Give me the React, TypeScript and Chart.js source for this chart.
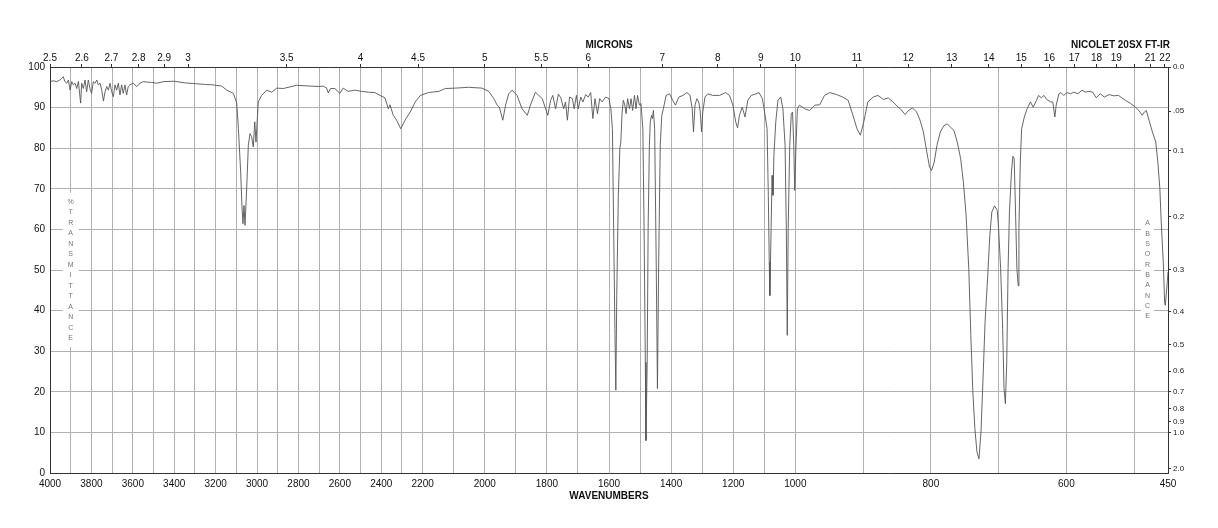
import React, { useEffect, useRef } from 'react';
import { Chart, registerables, LinearScale } from 'chart.js';

Chart.register(...registerables);

// Wavenumber axis is drawn in three equal-width linear segments
const AXIS_BREAKS = [4000, 2200, 1000, 450];

const WAVENUMBERS = [
  4000, 3984, 3968, 3952, 3936, 3928, 3919, 3911, 3903, 3895, 3887, 3879, 3871, 3863, 3852, 3847,
  3839, 3831, 3823, 3815, 3807, 3799, 3791, 3783, 3774, 3767, 3758, 3750, 3742, 3734, 3726, 3718,
  3710, 3702, 3694, 3686, 3678, 3670, 3662, 3654, 3646, 3638, 3630, 3622, 3614, 3598, 3581, 3565,
  3549, 3533, 3510, 3485, 3450, 3400, 3350, 3298, 3250, 3212, 3171, 3146, 3114, 3098, 3090, 3079,
  3073, 3068, 3063, 3058, 3050, 3042, 3034, 3026, 3018, 3011, 3005, 2994, 2978, 2953, 2929, 2905,
  2873, 2841, 2809, 2744, 2700, 2680, 2664, 2656, 2645, 2624, 2600, 2584, 2560, 2527, 2495, 2463,
  2431, 2406, 2382, 2366, 2358, 2342, 2326, 2306, 2285, 2260, 2236, 2211, 2181, 2148, 2127, 2095,
  2052, 2009, 1987, 1971, 1960, 1953, 1942, 1933, 1923, 1912, 1896, 1880, 1863, 1853, 1845, 1837,
  1826, 1815, 1804, 1797, 1788, 1781, 1772, 1763, 1755, 1746, 1740, 1734, 1727, 1718, 1712, 1705,
  1699, 1691, 1684, 1675, 1667, 1659, 1652, 1645, 1637, 1630, 1622, 1611, 1600, 1594, 1589, 1585,
  1581, 1578, 1575, 1570, 1565, 1562, 1558, 1554, 1549, 1545, 1540, 1534, 1529, 1524, 1518, 1513,
  1508, 1502, 1497, 1491, 1487, 1483, 1481, 1477, 1474, 1470, 1467, 1463, 1460, 1457, 1453, 1448,
  1444, 1440, 1435, 1430, 1425, 1416, 1405, 1395, 1386, 1375, 1362, 1349, 1339, 1332, 1328, 1323,
  1317, 1311, 1306, 1302, 1298, 1291, 1282, 1266, 1244, 1225, 1212, 1201, 1192, 1186, 1180, 1171,
  1162, 1153, 1142, 1126, 1117, 1106, 1099, 1091, 1087, 1084, 1082, 1078, 1075, 1072, 1069, 1063,
  1056, 1047, 1040, 1033, 1029, 1026, 1023, 1018, 1013, 1009, 1005, 1002, 999, 997, 994, 986,
  979, 971, 964, 957, 949, 939, 930, 922, 915, 909, 904, 899, 893, 885, 878, 870,
  863, 856, 848, 845, 838, 833, 827, 821, 816, 811, 806, 802, 799, 795, 791, 786,
  781, 776, 771, 766, 761, 756, 752, 748, 744, 741, 738, 735, 732, 729, 726, 723,
  720, 716, 713, 710, 706, 702, 700, 697, 694, 692, 690, 688, 686, 684, 681, 679,
  677, 675, 673, 671, 670, 668, 666, 662, 658, 653, 649, 644, 641, 637, 633, 629,
  623, 620, 617, 615, 611, 608, 604, 599, 594, 589, 583, 577, 572, 567, 561, 556,
  550, 544, 537, 530, 523, 518, 513, 505, 498, 493, 488, 485, 482, 478, 473, 468,
  465, 462, 460, 457, 455, 454, 451, 450,
];

const TRANSMITTANCE = [
  96.4, 96.6, 96.4, 96.8, 97.6, 96.4, 96.0, 96.8, 94.3, 96.4, 95.6, 96.0, 94.7, 96.4, 91.1, 96.0,
  94.7, 96.8, 93.9, 96.8, 94.7, 93.5, 96.4, 96.0, 96.8, 95.6, 96.0, 94.3, 91.6, 93.9, 95.2, 94.3,
  96.0, 93.9, 92.7, 95.6, 94.3, 96.0, 93.1, 95.6, 93.5, 95.6, 93.1, 95.2, 95.6, 96.0, 95.2, 96.0,
  96.4, 96.3, 96.2, 96.0, 96.4, 96.5, 96.1, 95.9, 95.7, 95.6, 95.3, 94.3, 93.5, 91.1, 84.8, 74.1,
  65.9, 61.4, 65.9, 61.0, 70.0, 80.7, 83.6, 82.8, 80.3, 86.5, 81.5, 91.4, 93.0, 94.3, 93.8, 94.8,
  94.7, 95.1, 95.5, 95.3, 95.2, 95.3, 94.8, 93.6, 94.7, 94.7, 93.5, 94.8, 94.0, 94.3, 94.0, 93.8,
  93.7, 93.0, 92.4, 89.7, 90.7, 88.1, 86.9, 84.8, 86.9, 88.9, 91.4, 93.0, 93.7, 94.0, 94.7, 94.8,
  95.0, 94.8, 94.0, 92.2, 90.6, 90.1, 86.9, 90.6, 93.4, 94.3, 93.0, 89.7, 88.1, 90.6, 92.2, 93.8,
  93.0, 92.2, 89.7, 88.1, 91.8, 93.0, 89.7, 93.3, 92.4, 89.7, 91.4, 86.9, 92.6, 92.2, 89.7, 93.0,
  89.7, 92.6, 91.4, 93.2, 92.6, 93.7, 87.3, 92.2, 88.5, 92.2, 91.4, 92.6, 92.2, 89.7, 84.8, 60.2,
  35.6, 20.4, 43.7, 68.4, 80.0, 81.5, 88.5, 91.8, 90.6, 88.5, 92.2, 89.7, 92.2, 89.3, 93.0, 89.7,
  93.0, 90.6, 91.0, 84.8, 60.2, 27.3, 8.0, 27.3, 60.2, 80.7, 86.5, 88.1, 87.3, 89.3, 84.8, 52.0,
  20.8, 52.0, 80.7, 88.1, 89.7, 93.0, 93.4, 91.8, 90.6, 92.6, 93.0, 93.7, 93.0, 89.7, 84.0, 90.6,
  92.2, 91.4, 88.9, 84.0, 88.9, 92.6, 93.4, 93.0, 93.0, 93.7, 93.0, 90.6, 86.5, 85.0, 88.1, 90.1,
  87.7, 91.8, 93.0, 93.4, 93.7, 92.2, 88.9, 84.8, 68.4, 52.0, 43.7, 60.2, 73.3, 68.4, 78.2, 86.5,
  91.8, 92.6, 89.7, 80.7, 60.2, 33.9, 60.2, 80.7, 88.5, 88.9, 80.7, 69.6, 80.7, 89.7, 90.6, 89.7,
  89.3, 90.6, 90.7, 93.0, 93.7, 93.2, 92.6, 91.8, 88.1, 84.8, 83.2, 86.5, 91.4, 92.6, 93.0, 92.0,
  92.4, 91.4, 90.1, 89.7, 88.3, 89.3, 89.9, 88.9, 86.9, 84.0, 79.1, 75.4, 74.5, 76.6, 80.7, 84.0,
  85.5, 86.0, 85.2, 84.4, 81.5, 77.4, 71.7, 63.5, 50.3, 33.9, 20.0, 10.9, 5.2, 3.5, 10.1, 23.2,
  37.1, 48.7, 58.5, 64.3, 65.8, 64.7, 60.2, 50.3, 35.6, 20.8, 17.1, 27.3, 50.3, 64.3, 74.1, 78.0,
  77.4, 64.3, 50.3, 46.1, 60.2, 76.6, 84.8, 87.7, 89.7, 91.4, 90.1, 91.8, 93.0, 92.4, 93.0, 92.0,
  91.4, 91.4, 87.7, 90.6, 93.4, 93.7, 93.0, 93.7, 93.4, 93.8, 93.4, 94.3, 93.8, 94.0, 93.8, 92.4,
  93.4, 92.6, 93.2, 92.9, 93.0, 92.4, 91.8, 91.0, 90.1, 89.3, 88.1, 88.9, 89.3, 86.9, 84.0, 81.5,
  76.6, 70.0, 61.8, 52.0, 42.1, 41.3, 47.1, 49.5,
];

// Bottom axis: grid every 100 cm-1, labels on a subset
const WAVE_GRID = [
  4000, 3900, 3800, 3700, 3600, 3500, 3400, 3300, 3200, 3100, 3000, 2900, 2800, 2700, 2600, 2500,
  2400, 2300, 2200, 2100, 2000, 1900, 1800, 1700, 1600, 1500, 1400, 1300, 1200, 1100, 1000, 900,
  800, 700, 600, 500, 450,
];
const WAVE_LABELED = [
  4000, 3800, 3600, 3400, 3200, 3000, 2800, 2600, 2400, 2200, 2000, 1800, 1600, 1400, 1200, 1000,
  800, 600, 450,
];

// Top axis: microns
const MICRONS = [2.5, 2.6, 2.7, 2.8, 2.9, 3, 3.5, 4, 4.5, 5, 5.5, 6, 7, 8, 9, 10, 11, 12, 13, 14, 15, 16, 17, 18, 19, 20, 21, 22];
const MICRONS_UNLABELED = [20];

// Left axis: %T
const TRANS_TICKS = [0, 10, 20, 30, 40, 50, 60, 70, 80, 90, 100];

// Right axis: absorbance
const ABS_TICKS = [0, 0.05, 0.1, 0.2, 0.3, 0.4, 0.5, 0.6, 0.7, 0.8, 0.9, 1.0, 2.0];
const ABS_LABELS = ['0.0', '.05', '0.1', '0.2', '0.3', '0.4', '0.5', '0.6', '0.7', '0.8', '0.9', '1.0', '2.0'];

const LEFT_TITLE = ['%', 'T', 'R', 'A', 'N', 'S', 'M', 'I', 'T', 'T', 'A', 'N', 'C', 'E'];
const RIGHT_TITLE = ['A', 'B', 'S', 'O', 'R', 'B', 'A', 'N', 'C', 'E'];
const TOP_TITLE = 'MICRONS';
const BOTTOM_TITLE = 'WAVENUMBERS';
const INSTRUMENT = 'NICOLET 20SX FT-IR';

const FONT = '"Liberation Sans", Arial, Helvetica, sans-serif';

function waveToDecimal(w: number): number {
  const n = AXIS_BREAKS.length - 1;
  for (let i = 0; i < n; i++) {
    const a = AXIS_BREAKS[i];
    const b = AXIS_BREAKS[i + 1];
    if (w >= b || i === n - 1) return (i + (a - w) / (a - b)) / n;
  }
  return 0;
}
function decimalToWave(d: number): number {
  const n = AXIS_BREAKS.length - 1;
  const p = Math.min(Math.max(d * n, 0), n);
  const i = Math.min(Math.floor(p), n - 1);
  const a = AXIS_BREAKS[i];
  const b = AXIS_BREAKS[i + 1];
  return a - (p - i) * (a - b);
}

class WavenumberScale extends LinearScale {
  static id = 'wavenumber';
  static defaults = {};
  getPixelForValue(value: any) {
    if (value === null || value === undefined || isNaN(value)) return NaN;
    return (this as any).getPixelForDecimal(waveToDecimal(value));
  }
  getValueForPixel(pixel: number) {
    return decimalToWave((this as any).getDecimalForPixel(pixel));
  }
}
Chart.register(WavenumberScale as any);

function drawStack(ctx: CanvasRenderingContext2D, letters: string[], cx: number, cy: number, step: number, boxW: number) {
  const h = (letters.length - 1) * step;
  ctx.fillStyle = '#ffffff';
  ctx.fillRect(cx - boxW / 2, cy - h / 2 - 9, boxW, h + 18);
  ctx.fillStyle = '#767676';
  ctx.font = `7px ${FONT}`;
  ctx.textAlign = 'center';
  ctx.textBaseline = 'middle';
  letters.forEach((l, i) => ctx.fillText(l, cx, cy - h / 2 + i * step));
}

const textPlugin = {
  id: 'irText',
  beforeDatasetsDraw(chart: any) {
    const { ctx, chartArea, scales } = chart;
    ctx.save();
    const cy = scales.y.getPixelForValue(50);
    drawStack(ctx, LEFT_TITLE, scales.x.getPixelForValue(3900), cy, 10.5, 16);
    drawStack(ctx, RIGHT_TITLE, chartArea.right - 20.5, cy, 10.33, 13);
    ctx.restore();
  },
  afterDraw(chart: any) {
    const { ctx, chartArea } = chart;
    ctx.save();
    ctx.fillStyle = '#111';
    ctx.font = `bold 10px ${FONT}`;
    ctx.textBaseline = 'middle';
    ctx.textAlign = 'center';
    const mid = (chartArea.left + chartArea.right) / 2;
    ctx.fillText(TOP_TITLE, mid, 45);
    ctx.fillText(BOTTOM_TITLE, mid, 496.5);
    ctx.textAlign = 'right';
    ctx.fillText(INSTRUMENT, chartArea.right + 2, 45);
    ctx.restore();
  },
};

export default function App() {
  const ref = useRef<HTMLCanvasElement | null>(null);
  useEffect(() => {
    if (!ref.current) return;
    const points = WAVENUMBERS.map((w, i) => ({ x: w, y: TRANSMITTANCE[i] }));
    const gridColor = '#b0b0b0';
    const axisColor = '#333333';
    const tickFont = { family: FONT, size: 10, lineHeight: 1.2 };
    const chart = new Chart(ref.current, {
      type: 'line',
      data: {
        datasets: [
          {
            data: points,
            xAxisID: 'x',
            yAxisID: 'y',
            borderColor: '#555555',
            borderWidth: 0.9,
            pointRadius: 0,
            tension: 0,
            fill: false,
          },
        ],
      },
      options: {
        animation: false,
        responsive: false,
        devicePixelRatio: 1,
        events: [],
        layout: { padding: 0 },
        plugins: { legend: { display: false }, tooltip: { enabled: false }, title: { display: false } },
        scales: {
          x: {
            type: 'wavenumber' as any,
            position: 'bottom',
            min: 450,
            max: 4000,
            afterBuildTicks: (s: any) => {
              s.ticks = WAVE_GRID.map((v) => ({ value: v }));
            },
            afterFit: (s: any) => {
              s.height = 55;
            },
            grid: { color: gridColor, lineWidth: 1, drawTicks: false },
            border: { display: true, color: axisColor, width: 1 },
            ticks: {
              autoSkip: false,
              maxRotation: 0,
              padding: 5,
              color: '#111',
              font: tickFont,
              callback: (v: any) => (WAVE_LABELED.includes(Number(v)) ? String(v) : ''),
            },
          } as any,
          xTop: {
            type: 'wavenumber' as any,
            position: 'top',
            min: 450,
            max: 4000,
            afterBuildTicks: (s: any) => {
              s.ticks = MICRONS.map((m) => ({ value: 10000 / m, label: m }));
            },
            afterFit: (s: any) => {
              s.height = 67;
            },
            grid: { drawOnChartArea: false, drawTicks: true, tickLength: 3, tickColor: axisColor, tickWidth: 1 },
            border: { display: true, color: axisColor, width: 1 },
            ticks: {
              autoSkip: false,
              maxRotation: 0,
              padding: 0,
              color: '#111',
              font: tickFont,
              callback: (v: any, i: number) => (MICRONS_UNLABELED.includes(MICRONS[i]) ? '' : String(MICRONS[i])),
            },
          } as any,
          y: {
            type: 'linear',
            position: 'left',
            min: 0,
            max: 100,
            afterBuildTicks: (s: any) => {
              s.ticks = TRANS_TICKS.map((v) => ({ value: v }));
            },
            afterFit: (s: any) => {
              s.width = 50;
            },
            grid: { color: gridColor, lineWidth: 1, drawTicks: false },
            border: { display: true, color: axisColor, width: 1 },
            ticks: { padding: 5, color: '#111', font: tickFont, callback: (v: any) => String(v) },
          },
          yR: {
            type: 'linear',
            position: 'right',
            min: 0,
            max: 100,
            afterBuildTicks: (s: any) => {
              s.ticks = ABS_TICKS.map((a) => ({ value: 100 * Math.pow(10, -a) }));
            },
            afterFit: (s: any) => {
              s.width = 50;
            },
            grid: { drawOnChartArea: false, drawTicks: true, tickLength: 3, tickColor: axisColor, tickWidth: 1 },
            border: { display: true, color: axisColor, width: 1 },
            ticks: {
              padding: 2,
              color: '#222',
              font: { family: FONT, size: 8, lineHeight: 1.2 },
              callback: (v: any, i: number) => ABS_LABELS[i],
            },
          },
        },
      },
      plugins: [textPlugin],
    } as any);
    return () => chart.destroy();
  }, []);
  return (
    <div style={{ position: 'absolute', left: 0, top: 0, width: 1218, height: 528, background: '#fff' }}>
      <canvas ref={ref} width={1218} height={528} style={{ display: 'block', width: 1218, height: 528 }} />
    </div>
  );
}
